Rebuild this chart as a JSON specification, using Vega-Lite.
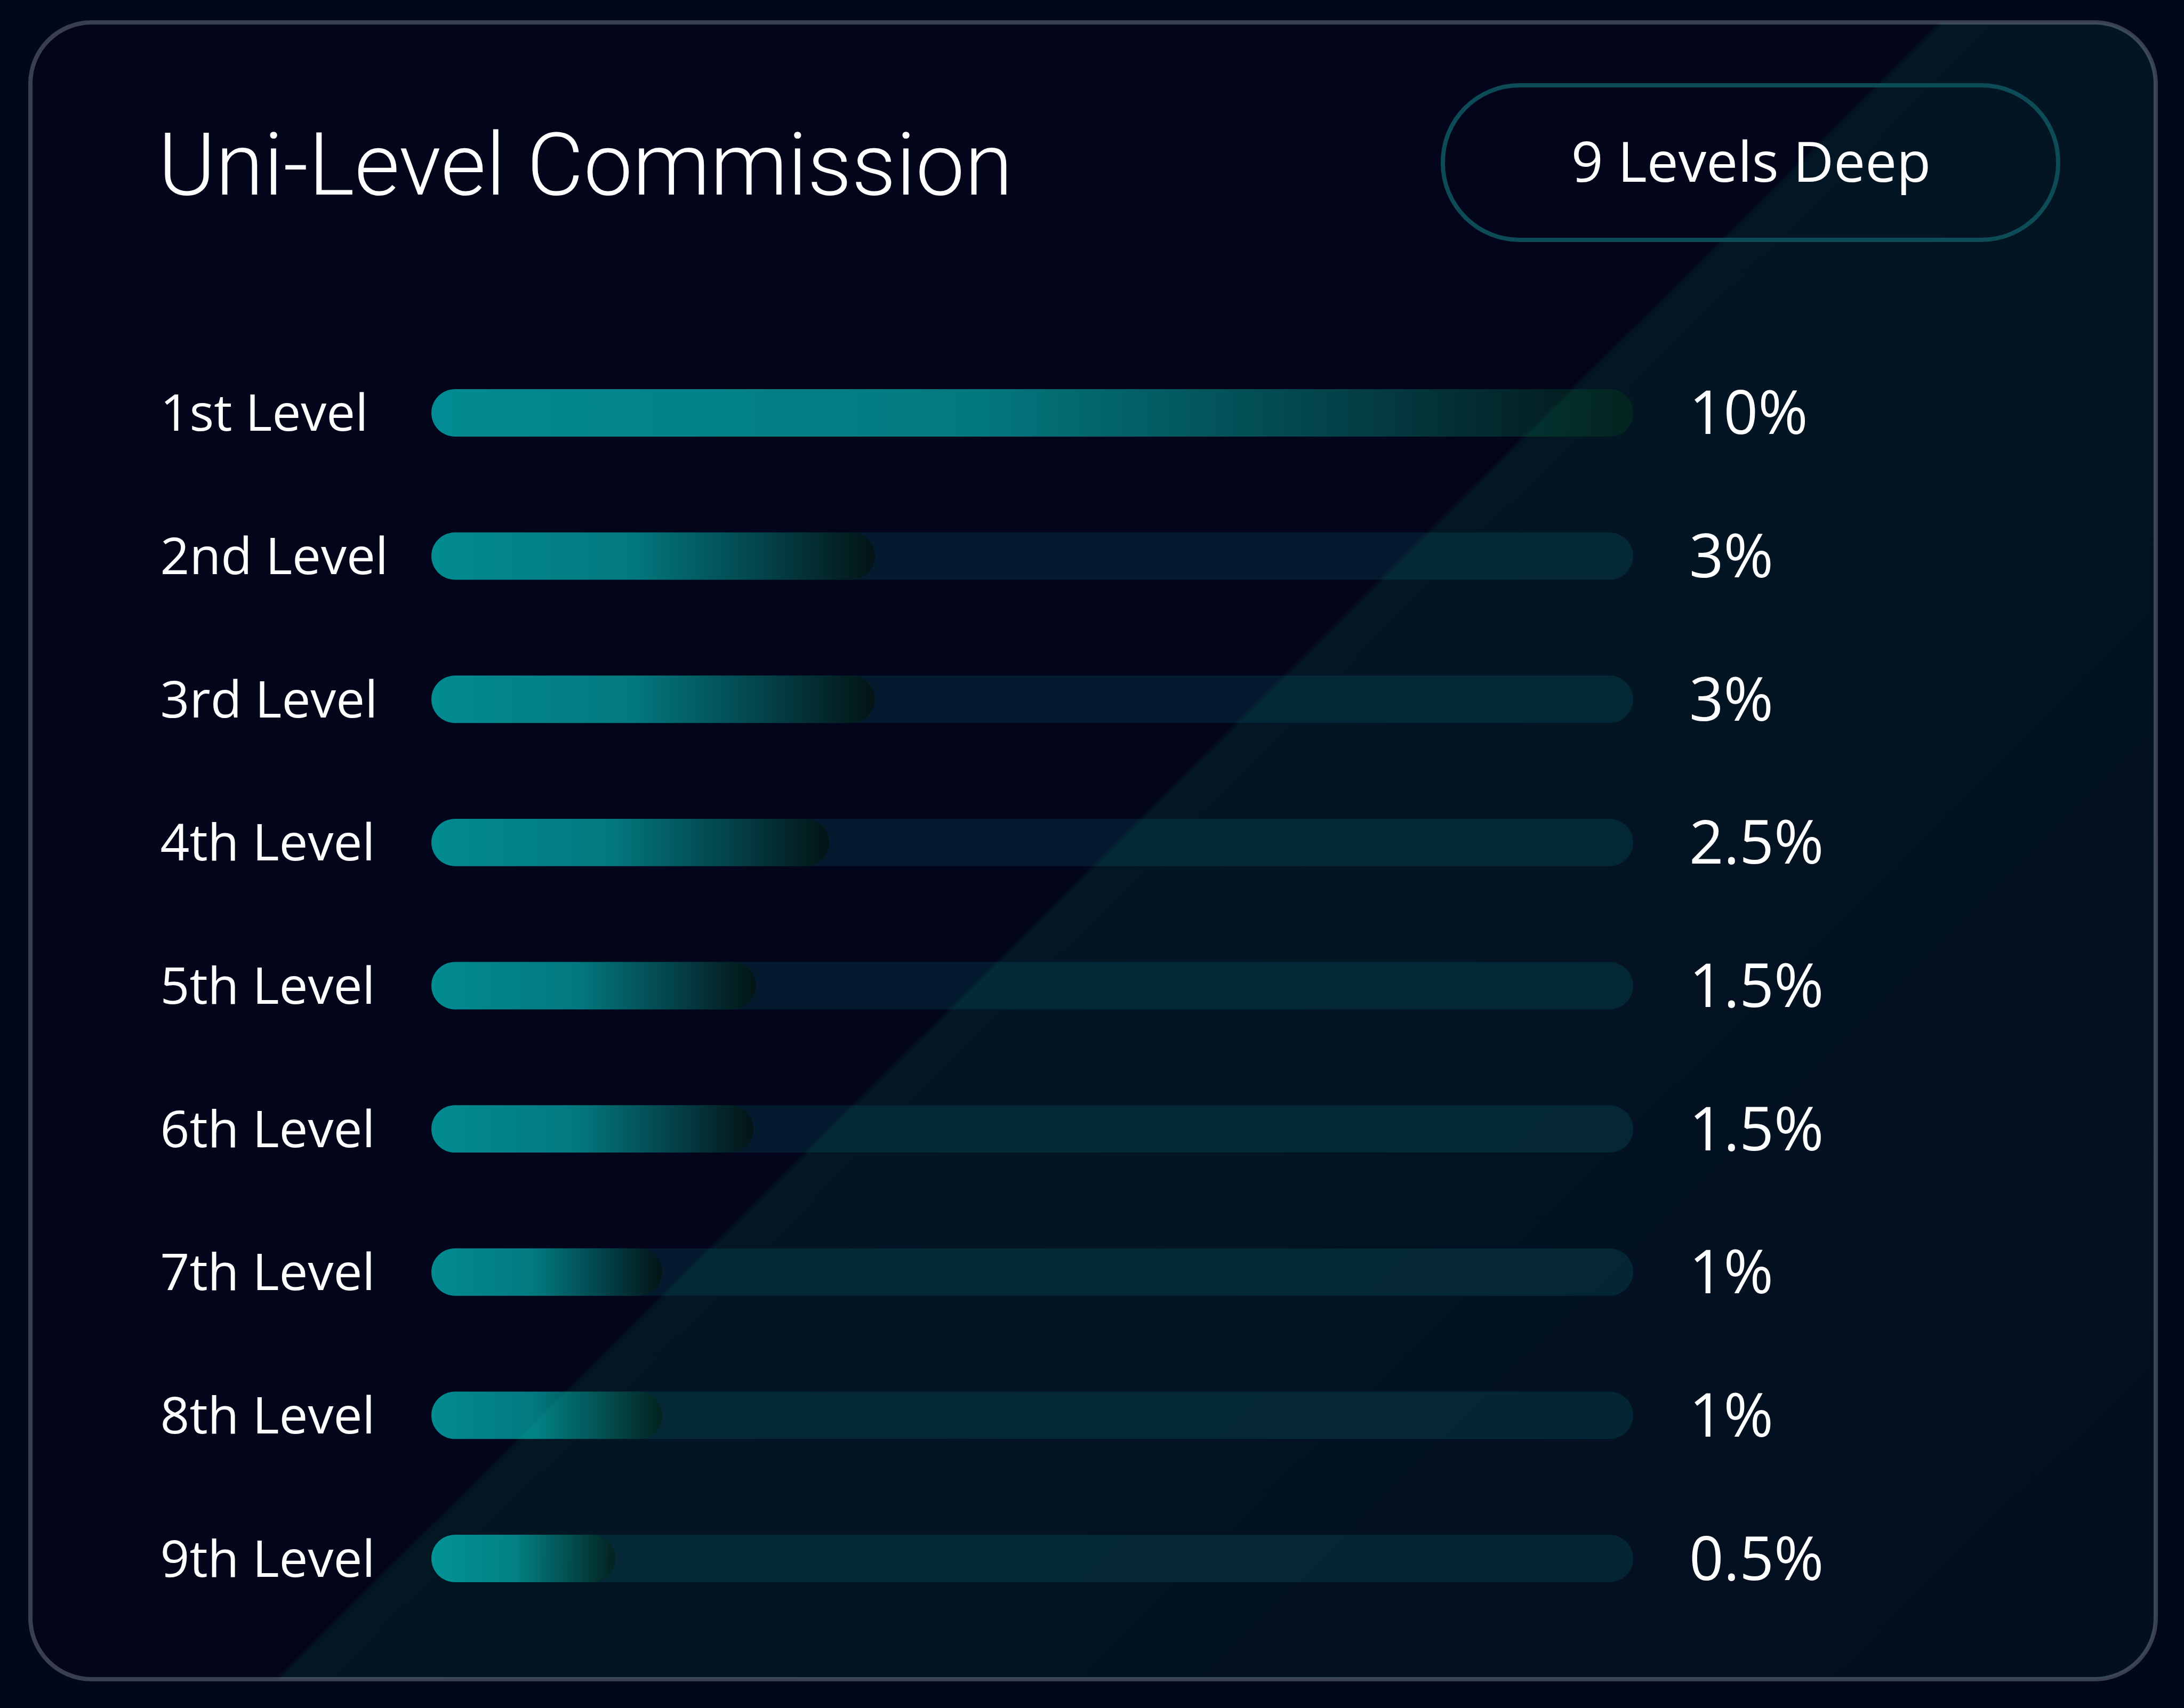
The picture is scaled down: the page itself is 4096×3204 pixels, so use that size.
{
  "$schema": "https://vega.github.io/schema/vega-lite/v6.json",
  "width": 4096,
  "height": 3204,
  "autosize": {"type": "fit", "contains": "padding"},
  "padding": {"left": 57, "top": 42, "right": 53, "bottom": 54},
  "background": "#02071a",
  "config": {
    "view": {"fill": "#03051b", "stroke": "#3a3f50", "strokeWidth": 8, "cornerRadius": 115}
  },
  "data": {
    "values": [
      {"level": "1st Level", "commission": 0.1, "progress": 100},
      {"level": "2nd Level", "commission": 0.03, "progress": 36.9},
      {"level": "3rd Level", "commission": 0.03, "progress": 36.9},
      {"level": "4th Level", "commission": 0.025, "progress": 33.1},
      {"level": "5th Level", "commission": 0.015, "progress": 27.0},
      {"level": "6th Level", "commission": 0.015, "progress": 26.8},
      {"level": "7th Level", "commission": 0.01, "progress": 19.2},
      {"level": "8th Level", "commission": 0.01, "progress": 19.2},
      {"level": "9th Level", "commission": 0.005, "progress": 15.3}
    ]
  },
  "encoding": {
    "y": {
      "field": "level",
      "type": "nominal",
      "sort": null,
      "scale": {"range": [688, 2926], "paddingInner": 0.6687, "paddingOuter": 0},
      "axis": {
        "orient": "left",
        "offset": -243,
        "domain": false,
        "ticks": false,
        "grid": false,
        "title": "Uni-Level Commission",
        "titleAngle": 0,
        "titleX": -4,
        "titleY": 322,
        "titleAlign": "left",
        "titleBaseline": "alphabetic",
        "titleFont": "Roboto",
        "titleFontWeight": 300,
        "titleFontSize": 164,
        "titleColor": "#ffffff",
        "titleLimit": 3000,
        "labelAlign": "left",
        "labelBaseline": "middle",
        "labelPadding": 0,
        "labelOffset": 5,
        "labelFont": "Open Sans",
        "labelFontSize": 96,
        "labelColor": "#ffffff",
        "labelLimit": 2000,
        "minExtent": 0,
        "maxExtent": 0
      }
    }
  },
  "layer": [
    {
      "mark": {"type": "bar", "cornerRadius": 44.5, "fill": "#041a2e"},
      "encoding": {
        "x": {
          "datum": 0,
          "type": "quantitative",
          "scale": {"domain": [0, 100], "range": [752, 3006]},
          "axis": null
        },
        "x2": {"datum": 100}
      }
    },
    {
      "mark": {
        "type": "bar",
        "cornerRadius": 44.5,
        "fill": {
          "gradient": "linear",
          "x1": 0, "y1": 0, "x2": 1, "y2": 0,
          "stops": [
            {"offset": 0, "color": "#028b92"},
            {"offset": 0.45, "color": "#02797f"},
            {"offset": 0.75, "color": "#034249"},
            {"offset": 1, "color": "#031416"}
          ]
        }
      },
      "encoding": {
        "x": {"field": "progress", "type": "quantitative", "stack": null, "axis": null}
      }
    },
    {
      "mark": {
        "type": "text",
        "align": "left",
        "baseline": "middle",
        "dx": 105,
        "dy": 6,
        "font": "Open Sans",
        "fontSize": 113
      },
      "encoding": {
        "x": {"datum": 100, "type": "quantitative", "axis": null},
        "text": {"field": "commission", "type": "quantitative", "format": ".1~%"},
        "color": {
          "field": "commission",
          "type": "quantitative",
          "scale": {"range": ["#ffffff", "#ffffff"]},
          "legend": {
            "orient": "none",
            "legendX": 2649,
            "legendY": 118,
            "direction": "horizontal",
            "title": "9 Levels Deep",
            "values": [],
            "labelOpacity": 0,
            "gradientLength": 978,
            "gradientThickness": 1,
            "gradientOpacity": 0,
            "gradientStrokeWidth": 0,
            "gradientStrokeColor": "transparent",
            "padding": 88,
            "cornerRadius": 144,
            "strokeColor": "#0d4c56",
            "titleFont": "Open Sans",
            "titleFontSize": 105,
            "titleFontWeight": "normal",
            "titleColor": "#ffffff",
            "titleAnchor": "middle",
            "titleOrient": "top",
            "titlePadding": 0,
            "titleLimit": 2000,
            "encode": {
              "legend": {"update": {"strokeWidth": {"value": 8}}},
              "gradient": {"update": {"opacity": {"value": 0}, "fillOpacity": {"value": 0}, "strokeOpacity": {"value": 0}}},
              "title": {"update": {"dx": {"value": 45}, "dy": {"value": 10}}}
            }
          }
        }
      }
    },
    {
      "data": {"values": [{}]},
      "mark": {
        "type": "rect",
        "blend": "screen",
        "cornerRadius": 115,
        "fill": {
          "gradient": "linear",
          "x1": 0, "y1": 0, "x2": 1.0134, "y2": 0.793,
          "stops": [
            {"offset": 0, "color": "#000000"},
            {"offset": 0.549, "color": "#000000"},
            {"offset": 0.551, "color": "#00110a"},
            {"offset": 1, "color": "#000a06"}
          ]
        }
      },
      "encoding": {
        "x": {"value": 0},
        "x2": {"value": "width"},
        "y": {"value": 0},
        "y2": {"value": "height"}
      }
    }
  ]
}
